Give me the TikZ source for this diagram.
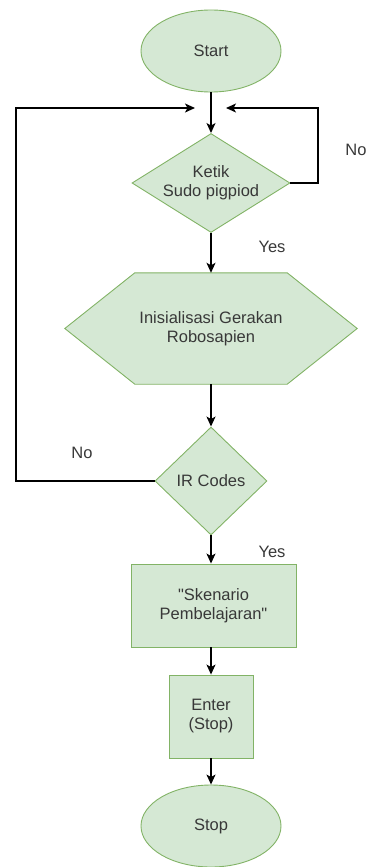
\documentclass[tikz,border=0pt]{standalone}
\usepackage{fontspec}
\setmainfont{Liberation Sans}
\usetikzlibrary{shapes.geometric,arrows.meta,calc}
\definecolor{gfill}{HTML}{D5E8D4}
\definecolor{gline}{HTML}{82B366}
\definecolor{txt}{HTML}{383838}
\tikzset{
  base/.style={fill=gfill,draw=gline,line width=0.9pt,text=txt,inner sep=0pt,align=center,
    font=\fontsize{16.5}{19}\selectfont},
  term/.style={base,ellipse,minimum width=140pt,minimum height=82pt},
  decide/.style={base,diamond},
  proc/.style={base,rectangle},
  lbl/.style={text=txt,font=\fontsize{16.5}{19}\selectfont,inner sep=0pt},
  arr/.style={line width=1.3pt,-{Stealth[length=10pt,width=9pt,inset=2.5pt]}},
}
\begin{document}
\begin{tikzpicture}[x=1pt,y=-1pt]
\useasboundingbox (0,0) rectangle (367,867);
\node[term] (start) at (211,51) {Start};
\node[decide,shape aspect=1.6,minimum width=158pt,minimum height=99pt] (d1) at (211,183) {Ketik\\Sudo pigpiod};
\node[lbl,minimum width=292pt,minimum height=111pt] (hex) at (211,328.5) {};
\draw[base] (hex.west) -- ($(hex.north west)+(70,0)$) -- ($(hex.north east)+(-70,0)$) -- (hex.east)
  -- ($(hex.south east)+(-70,0)$) -- ($(hex.south west)+(70,0)$) -- cycle;
\node[lbl,align=center] (hextext) at (hex.center) {Inisialisasi Gerakan\\Robosapien};
\node[decide,minimum width=112pt,minimum height=108pt] (ir) at (211,481) {IR Codes};
\node[proc,minimum width=165pt,minimum height=83pt] (r1) at (213.5,605.5) {\textquotedbl Skenario\\Pembelajaran\textquotedbl};
\node[proc,minimum width=84pt,minimum height=83pt] (r2) at (211,716.5) {Enter\\(Stop)};
\node[term] (stop) at (211,826) {Stop};

\coordinate (lc) at (16,108);
\coordinate (lt) at (195,108);
\coordinate (rc) at (318,108);
\coordinate (rt) at (226,108);

\draw[arr] (start) -- (d1);
\draw[arr] (d1) -- (hex.north);
\draw[arr] (hex.south) -- (ir);
\draw[arr] (ir.south) -- (ir.south |- r1.north);
\draw[arr] (r2.north |- r1.south) -- (r2.north);
\draw[arr] (r2) -- (stop);
\draw[arr] (ir.west) -| (lc) -- (lt);
\draw[arr] (d1.east) -| (rc) -- (rt);

\node[lbl] (no1) at (356,150) {No};
\node[lbl] (no2) at (82,453) {No};
\node[lbl] (yes1) at (272,247) {Yes};
\node[lbl] (yes2) at (272,552) {Yes};
\end{tikzpicture}
\end{document}
